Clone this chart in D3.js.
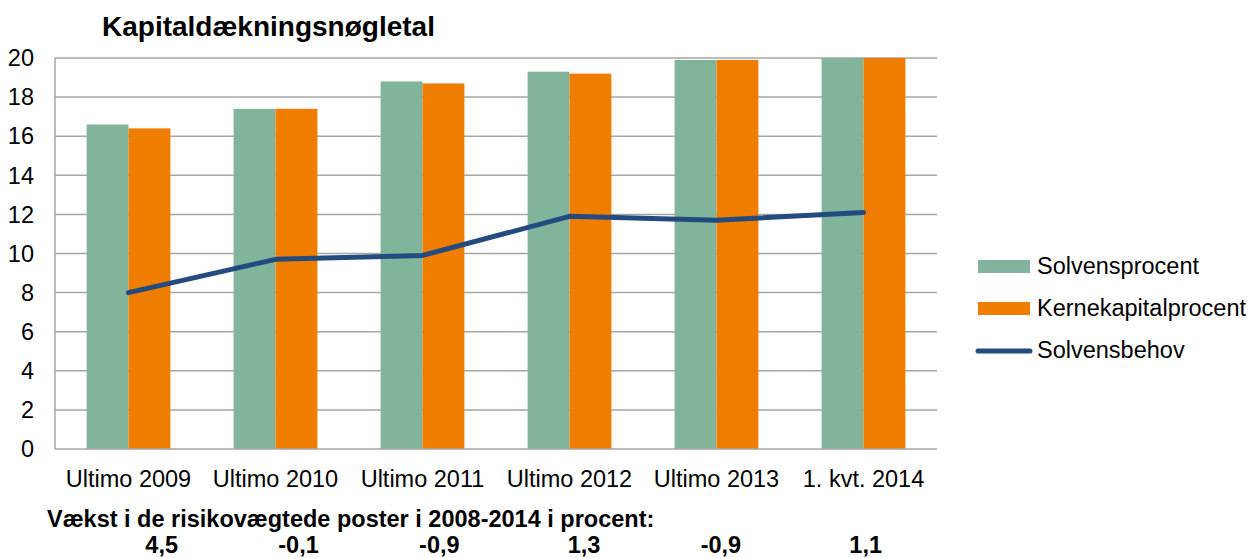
<!DOCTYPE html>
<html>
<head>
<meta charset="utf-8">
<script src="https://cdn.jsdelivr.net/npm/d3@7"></script>
<style>
  body { margin: 0; background: #fff; }
  svg { display: block; font-family: "Liberation Sans", Arial, sans-serif; }
</style>
</head>
<body>
<svg id="chart" width="1260" height="558"></svg>
<script>
// data
var categories = ["Ultimo 2009", "Ultimo 2010", "Ultimo 2011", "Ultimo 2012", "Ultimo 2013", "1. kvt. 2014"];
var solvensprocent = [16.6, 17.4, 18.8, 19.3, 19.9, 20.0];
var kernekapitalprocent = [16.4, 17.4, 18.7, 19.2, 19.9, 20.0];
var solvensbehov = [8.0, 9.7, 9.9, 11.9, 11.7, 12.1];
var vaekst = ["4,5", "-0,1", "-0,9", "1,3", "-0,9", "1,1"];
var yTicks = [0, 2, 4, 6, 8, 10, 12, 14, 16, 18, 20];

var series = [
  {name: "Solvensprocent", values: solvensprocent, color: "#82b39b"},
  {name: "Kernekapitalprocent", values: kernekapitalprocent, color: "#ee7d00"}
];
var lineColor = "#234b80";

var svg = d3.select("#chart");
var plotLeft = 55, plotRight = 937, plotTop = 58, plotBottom = 449;

var x = d3.scaleBand().domain(categories).range([plotLeft, plotRight]).paddingInner(0).paddingOuter(0);
var inner = d3.scaleBand().domain(series.map(function(s) { return s.name; }))
  .range([x.bandwidth() * 0.215, x.bandwidth() * 0.785]);
var y = d3.scaleLinear().domain([0, 20]).range([plotBottom, plotTop]);

// gridlines
svg.append("g").selectAll("line")
  .data(yTicks.filter(function(d) { return d > 0; })).enter()
  .append("line")
  .attr("x1", plotLeft).attr("x2", plotRight)
  .attr("y1", function(d) { return y(d); }).attr("y2", function(d) { return y(d); })
  .attr("stroke", "#a6a6a6").attr("stroke-width", 1.5);

// bars
series.forEach(function(s) {
  svg.append("g").selectAll("rect")
    .data(s.values).enter()
    .append("rect")
    .attr("x", function(d, i) { return x(categories[i]) + inner(s.name); })
    .attr("width", inner.bandwidth())
    .attr("y", function(d) { return y(d); })
    .attr("height", function(d) { return y(0) - y(d); })
    .attr("fill", s.color);
});

// axes lines
svg.append("line").attr("x1", plotLeft).attr("x2", plotLeft).attr("y1", plotTop).attr("y2", plotBottom)
  .attr("stroke", "#a6a6a6").attr("stroke-width", 1.5);
svg.append("line").attr("x1", plotLeft).attr("x2", plotRight).attr("y1", plotBottom).attr("y2", plotBottom)
  .attr("stroke", "#a6a6a6").attr("stroke-width", 1.5);

// y labels
svg.append("g").selectAll("text")
  .data(yTicks).enter()
  .append("text")
  .attr("x", 34).attr("y", function(d) { return y(d); })
  .attr("dy", "0.35em")
  .attr("text-anchor", "end")
  .attr("font-size", 23.5)
  .attr("fill", "#000")
  .text(function(d) { return d; });

// x labels
svg.append("g").selectAll("text")
  .data(categories).enter()
  .append("text")
  .attr("x", function(d) { return x(d) + x.bandwidth() / 2; })
  .attr("y", 487)
  .attr("text-anchor", "middle")
  .attr("font-size", 23.5)
  .text(function(d) { return d; });

// solvensbehov line
var line = d3.line()
  .x(function(d, i) { return x(categories[i]) + x.bandwidth() / 2; })
  .y(function(d) { return y(d); });
svg.append("path")
  .datum(solvensbehov)
  .attr("d", line)
  .attr("fill", "none")
  .attr("stroke", lineColor)
  .attr("stroke-width", 5)
  .attr("stroke-linecap", "round")
  .attr("stroke-linejoin", "round");

// title
svg.append("text")
  .attr("x", 102).attr("y", 36)
  .attr("font-size", 28).attr("font-weight", "bold")
  .text("Kapitaldækningsnøgletal");

// legend
var legend = svg.append("g");
series.forEach(function(s, i) {
  legend.append("rect")
    .attr("x", 978).attr("y", 260 + i * 42)
    .attr("width", 52).attr("height", 13)
    .attr("fill", s.color);
  legend.append("text")
    .attr("x", 1037).attr("y", 274 + i * 42)
    .attr("font-size", 23.5)
    .text(s.name);
});
legend.append("line")
  .attr("x1", 978).attr("x2", 1030).attr("y1", 351).attr("y2", 351)
  .attr("stroke", lineColor).attr("stroke-width", 5).attr("stroke-linecap", "round");
legend.append("text")
  .attr("x", 1037).attr("y", 358)
  .attr("font-size", 23.5)
  .text("Solvensbehov");

// note below chart
svg.append("text")
  .attr("x", 47).attr("y", 527)
  .attr("font-size", 23.5).attr("font-weight", "bold")
  .text("Vækst i de risikovægtede poster i 2008-2014 i procent:");

var noteX = d3.scaleLinear().domain([0, 5]).range([178, 882]);
svg.append("g").selectAll("text")
  .data(vaekst).enter()
  .append("text")
  .attr("x", function(d, i) { return noteX(i); })
  .attr("y", 553)
  .attr("text-anchor", "end")
  .attr("font-size", 23.5).attr("font-weight", "bold")
  .text(function(d) { return d; });
</script>
</body>
</html>
